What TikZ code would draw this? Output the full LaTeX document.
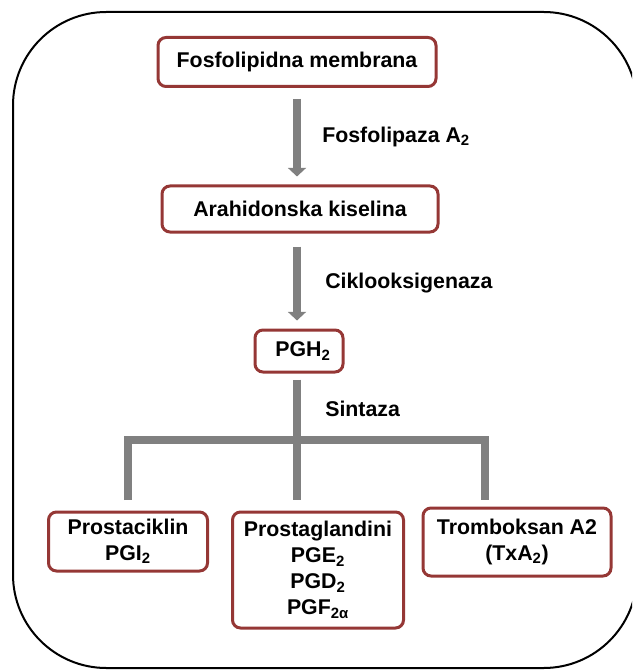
\documentclass[tikz,border=0pt]{standalone}
\usepackage{fontspec}
\setmainfont{Liberation Sans}
\usetikzlibrary{arrows.meta,positioning,calc}
\definecolor{bred}{HTML}{953735}
\definecolor{bgray}{HTML}{808080}
\tikzset{
  box/.style={draw=bred,fill=white,rounded corners=6pt,line width=2.25pt,align=center,
    font=\fontsize{16pt}{19.5pt}\selectfont\bfseries,inner sep=0pt},
  arr/.style={-{Triangle[length=6.5pt,width=13.5pt]},line width=6pt,draw=bgray},
  tree/.style={line width=6pt,draw=bgray,line join=miter},
  lbl/.style={font=\fontsize{16pt}{19.5pt}\selectfont\bfseries,anchor=west,inner sep=0pt},
  frame/.style={draw=black,line width=1.5pt,rounded corners=70pt},
}
\begin{document}
\begin{tikzpicture}[x=0.75pt,y=-0.75pt]
  \useasboundingbox (0,0) rectangle (632,670);
  \clip (0,0) rectangle (632,670);
  \draw[frame] (13,12) rectangle (637,668);

  % chain
  \node[box,minimum width=208.5pt,minimum height=36.75pt] (fm) at (297,62) {Fosfolipidna membrana};
  \node[box,minimum width=207pt,minimum height=34.5pt] (ak) at (300,209) {Arahidonska kiselina};
  \node[box,minimum width=66pt,minimum height=31.5pt] (pgh) at (299,351) {\hspace{6pt}PGH\textsubscript{2}};

  % products
  \node[box,minimum width=119.25pt,minimum height=44.25pt] (pgi) at (128,541.5) {Prostaciklin\\PGI\textsubscript{2}};
  \node[box,minimum width=128.25pt,minimum height=87pt] (pg) at (318,570) {Prostaglandini\\PGE\textsubscript{2}\\PGD\textsubscript{2}\\PGF\textsubscript{2α}};
  \node[box,minimum width=141pt,minimum height=51pt] (txa) at (517,542) {Tromboksan A2\\(TxA\textsubscript{2})};

  \draw[arr,shorten <=8.25pt,shorten >=6pt] (fm.south -| 297,0) -- (ak.north -| 297,0);
  \draw[arr,shorten <=9.75pt,shorten >=6pt] (ak.south -| 297,0) -- (pgh.north -| 297,0);

  \node[lbl] (e1) at (322,137) {Fosfolipaza A\textsubscript{2}};
  \node[lbl] (e2) at (325,283) {Ciklooksigenaza};
  \node[lbl] (e3) at (325,409) {Sintaza};

  % branching
  \coordinate (bar) at (297,440);
  \coordinate (dl) at (128,500);
  \coordinate (dm) at (297,500);
  \coordinate (dr) at (485,500);
  \draw[tree,shorten <=4.5pt] (pgh.south -| dm) -- (dm);
  \draw[tree] (dl) |- (bar) -| (dr);
\end{tikzpicture}
\end{document}
